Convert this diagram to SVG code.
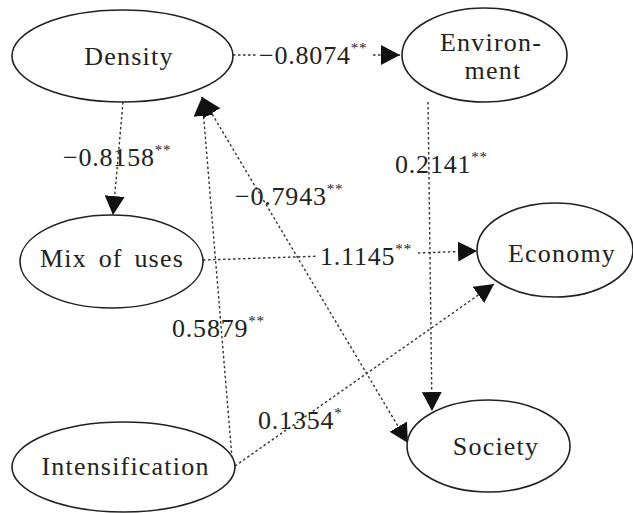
<svg xmlns="http://www.w3.org/2000/svg" width="633" height="513" viewBox="0 0 633 513">
<style>
  .node ellipse { fill: #fff; stroke: #222; stroke-width: 1.6; }
  .node text { text-anchor: middle; letter-spacing: 1.2px; }
  .edge { fill: none; stroke: #333; stroke-width: 1.4; stroke-dasharray: 2.5 2.5; }
  .lbl { letter-spacing: 0.8px; }
  .bg { fill: #fff; }
</style>
<defs>
  <marker id="ah" markerUnits="userSpaceOnUse" markerWidth="20" markerHeight="20" refX="19" refY="10" orient="auto-start-reverse" viewBox="0 0 20 20">
    <path d="M0,0 L19,10 L0,20 z" fill="#111"/>
  </marker>
</defs>
<rect width="633" height="513" fill="#fff"/>

<g id="connectors">
  <path class="edge" d="M233,55 L400,55" marker-end="url(#ah)"/>
  <path class="edge" d="M123,102 L113,215" marker-end="url(#ah)"/>
  <path class="edge" d="M203,260 L477,251" marker-end="url(#ah)"/>
  <path class="edge" d="M232,458 L202,97" marker-end="url(#ah)"/>
  <path class="edge" d="M202,97 L408,443" marker-start="url(#ah)" marker-end="url(#ah)"/>
  <path class="edge" d="M428,102 L432,411" marker-end="url(#ah)"/>
  <path class="edge" d="M235,466 L494,284" marker-end="url(#ah)"/>
</g>

<g font-family="Liberation Serif, Times New Roman, DejaVu Serif, serif" font-size="26" fill="#222">
<g id="labels">
  <rect class="bg" x="256" y="40" width="116" height="30"/>
  <text class="lbl" x="259" y="64">−0.8074<tspan font-size="15" dy="-11">**</tspan></text>
  <text class="lbl" x="63" y="166">−0.8158<tspan font-size="15" dy="-11">**</tspan></text>
  <text class="lbl" x="235" y="205">−0.7943<tspan font-size="15" dy="-11">**</tspan></text>
  <text class="lbl" x="395" y="173">0.2141<tspan font-size="15" dy="-11">**</tspan></text>
  <rect class="bg" x="316" y="240" width="102" height="29"/>
  <text class="lbl" x="320" y="265">1.1145<tspan font-size="15" dy="-11">**</tspan></text>
  <text class="lbl" x="172" y="337">0.5879<tspan font-size="15" dy="-11">**</tspan></text>
  <text class="lbl" x="258" y="429">0.1354<tspan font-size="15" dy="-11">*</tspan></text>
</g>

<g id="density" class="node">
  <ellipse cx="122.5" cy="56" rx="110.5" ry="46"/>
  <text x="129" y="65">Density</text>
</g>
<g id="environment" class="node">
  <ellipse cx="484.5" cy="55" rx="82.5" ry="47"/>
  <text x="491" y="51">Environ-</text>
  <text x="493" y="79">ment</text>
</g>
<g id="mix-of-uses" class="node">
  <ellipse cx="111.5" cy="261.5" rx="91.5" ry="46.5"/>
  <text x="112" y="267" word-spacing="4">Mix of uses</text>
</g>
<g id="economy" class="node">
  <ellipse cx="555" cy="250" rx="78" ry="47"/>
  <text x="562" y="262">Economy</text>
</g>
<g id="intensification" class="node">
  <ellipse cx="123.5" cy="467" rx="111.5" ry="45"/>
  <text x="125.5" y="475">Intensification</text>
</g>
<g id="society" class="node">
  <ellipse cx="488.5" cy="446" rx="81.5" ry="46"/>
  <text x="496" y="455">Society</text>
</g>
</g>
</svg>
